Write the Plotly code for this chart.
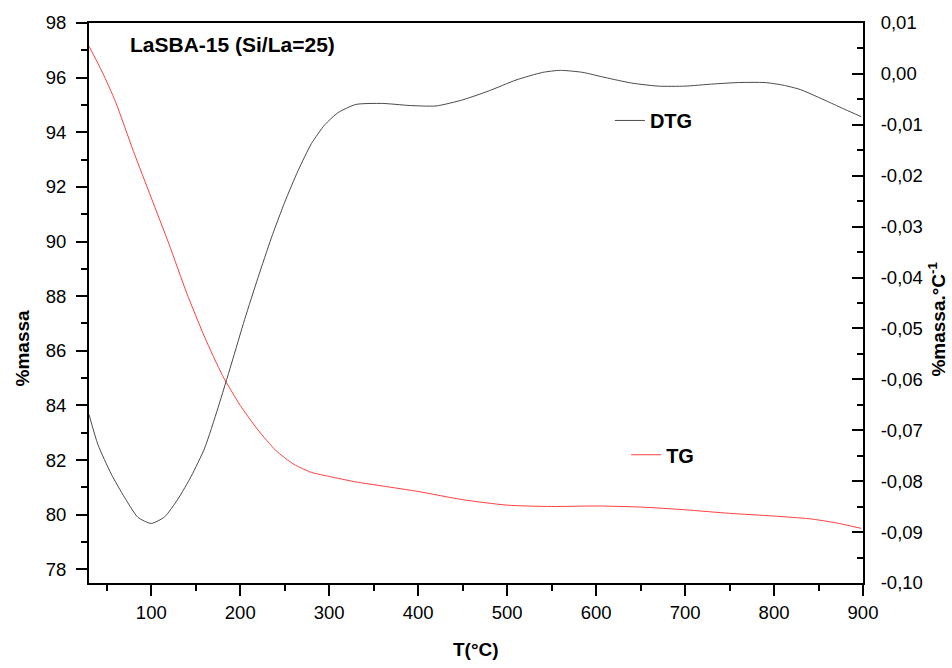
import plotly.graph_objects as go

# ---- data ----
tg_T = [30, 45, 60, 80, 100, 120, 140, 160, 180, 200, 220, 240, 260, 280, 300,
        330, 360, 400, 450, 500, 550, 600, 650, 700, 750, 800, 840, 870, 898]
tg_mass = [97.15, 96.2, 95.1, 93.3, 91.6, 89.9, 88.1, 86.5, 85.1, 84.0, 83.1, 82.35,
           81.85, 81.55, 81.4, 81.2, 81.05, 80.85, 80.55, 80.35, 80.3, 80.32, 80.28,
           80.18, 80.05, 79.95, 79.85, 79.7, 79.5]

dtg_T = [30, 40, 55, 70, 85, 100, 115, 130, 145, 160, 175, 190, 205, 220, 235, 250,
         265, 280, 295, 310, 330, 360, 390, 420, 450, 480, 510, 540, 560, 585, 610,
         640, 670, 700, 730, 760, 790, 810, 830, 860, 880, 898]
dtg_val = [-0.0669, -0.0728, -0.0786, -0.0832, -0.0871, -0.0883, -0.0870, -0.0835,
           -0.0790, -0.0735, -0.0656, -0.0570, -0.0482, -0.0400, -0.0322, -0.0252,
           -0.0190, -0.0137, -0.0100, -0.0076, -0.0060, -0.0058, -0.0062, -0.0063,
           -0.0051, -0.0033, -0.0012, 0.0003, 0.0007, 0.0003, -0.0007, -0.0018,
           -0.0024, -0.0024, -0.0020, -0.0017, -0.0017, -0.0022, -0.0031, -0.0054,
           -0.0070, -0.0084]

x_ticks = [100, 200, 300, 400, 500, 600, 700, 800, 900]
x_minor = [50, 150, 250, 350, 450, 550, 650, 750, 850]
left_ticks = [78, 80, 82, 84, 86, 88, 90, 92, 94, 96, 98]
right_ticks = [0.01, 0.00, -0.01, -0.02, -0.03, -0.04, -0.05, -0.06, -0.07, -0.08, -0.09, -0.10]
right_ticktext = [("%.2f" % (round(v, 2) + 0.0)).replace(".", ",") for v in right_ticks]

FONT = "Liberation Sans, Arial, sans-serif"

fig = go.Figure()
fig.add_trace(go.Scatter(x=dtg_T, y=dtg_val, mode="lines", name="<b>DTG</b>",
                         line=dict(color="#4a4a4a", width=1, shape="spline", smoothing=0.6),
                         yaxis="y2", legend="legend", showlegend=True))
fig.add_trace(go.Scatter(x=tg_T, y=tg_mass, mode="lines", name="<b>TG</b>",
                         line=dict(color="#ff4040", width=1, shape="spline", smoothing=0.6),
                         yaxis="y", legend="legend2", showlegend=True))

axis_common = dict(showline=True, linecolor="black", linewidth=2, showgrid=False,
                   zeroline=False, tickcolor="black", tickwidth=2,
                   tickfont=dict(family=FONT, size=18.5, color="black"))

fig.update_layout(
    width=952, height=668,
    showlegend=True,
    margin=dict(l=89, r=89, t=20, b=85),
    paper_bgcolor="white", plot_bgcolor="white",
    font=dict(family=FONT, color="black"),
    xaxis=dict(range=[30, 900], tickmode="array", tickvals=x_ticks,
               ticks="outside", ticklen=11, mirror=True,
               minor=dict(tickvals=x_minor, ticks="outside", ticklen=6, tickwidth=2,
                          tickcolor="black"),
               ticklabelstandoff=1, **axis_common),
    yaxis=dict(range=[77.5, 98], tickmode="array", tickvals=left_ticks,
               ticks="outside", ticklen=11,
               minor=dict(dtick=1, tick0=0, ticks="outside", ticklen=6, tickwidth=2,
                          tickcolor="black"),
               ticklabelstandoff=6, **axis_common),
    yaxis2=dict(range=[-0.10, 0.01], overlaying="y", side="right", anchor="x",
                tickmode="array", tickvals=right_ticks, ticktext=right_ticktext,
                ticks="inside", ticklen=11,
                minor=dict(dtick=0.005, tick0=0, ticks="inside", ticklen=6, tickwidth=2,
                           tickcolor="black"),
                ticklabelstandoff=12, **axis_common),
    legend=dict(x=0.673, y=0.826, xanchor="left", yanchor="middle",
                bgcolor="rgba(0,0,0,0)", font=dict(family=FONT, size=20, color="black")),
    legend2=dict(x=0.694, y=0.229, xanchor="left", yanchor="middle",
                 bgcolor="rgba(0,0,0,0)", font=dict(family=FONT, size=20, color="black")),
    annotations=[
        dict(text="<b>LaSBA-15 (Si/La=25)</b>", xref="paper", yref="paper",
             x=(128 - 89) / 774, y=1 - (42 - 20) / 562.7, xanchor="left", yanchor="middle",
             showarrow=False, font=dict(family=FONT, size=21, color="black")),
        dict(text="<b>%massa</b>", xref="paper", yref="paper", textangle=-90,
             x=(22 - 89) / 774, y=1 - (347 - 20) / 562.7, xanchor="center", yanchor="middle",
             showarrow=False, font=dict(family=FONT, size=19, color="black")),
        dict(text="<b>T(°C)</b>", xref="paper", yref="paper",
             x=(476 - 89) / 774, y=1 - (650 - 20) / 562.7, xanchor="center", yanchor="middle",
             showarrow=False, font=dict(family=FONT, size=19, color="black")),
        dict(text="<b>%massa.°C<sup>-1</sup></b>", xref="paper", yref="paper", textangle=-90,
             x=(937 - 89) / 774, y=1 - (318 - 20) / 562.7, xanchor="center", yanchor="middle",
             showarrow=False, font=dict(family=FONT, size=19, color="black")),
    ],
)

fig.write_html("out.html", config={"displayModeBar": False},
               post_script="document.body.style.margin='0px';document.body.style.overflow='hidden';")
